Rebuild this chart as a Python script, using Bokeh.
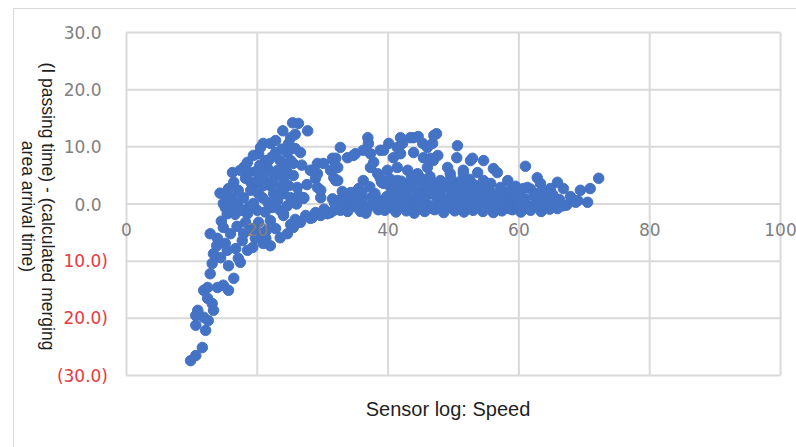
import math
from bokeh.plotting import figure
from bokeh.models import Range1d
from bokeh.embed import file_html
from bokeh.resources import INLINE

# ---- data: sensor speed vs (passing time - calculated arrival time) ----
speed_lower_branch = [9.8, 10.6, 11.6, 12.1, 10.6, 10.6, 10.9, 11.8, 12.5, 13.3, 13.1, 12.4, 11.8, 12.4,
                      13.9, 14.8, 15.6, 16.4, 12.8, 13.1, 13.3, 14.4, 15.4, 15.6, 17.4, 12.8, 13.9, 14.8,
                      15.9, 15.4, 17.7, 18.5, 19.3, 20.9, 22.0, 23.5, 24.6, 25.5, 24.0, 18.5, 20.0, 17.9,
                      13.8, 15.1, 16.7, 17.1, 19.7, 20.2, 21.4, 22.8, 21.3, 19.0, 18.2, 20.2, 22.0, 26.6,
                      28.1, 29.7, 31.2, 32.7, 27.4, 28.9, 25.1, 25.8, 14.5, 16.9]
diff_lower_branch = [-27.4, -26.5, -25.1, -22.1, -21.2, -19.5, -18.6, -19.8, -20.4, -18.6, -17.4, -16.5, -15.1, -14.6,
                     -14.6, -14.2, -15.1, -13.0, -12.2, -10.4, -8.7, -9.4, -8.1, -10.8, -10.2, -5.2, -6.0, -4.1,
                     -5.2, -1.7, -6.4, -8.1, -7.6, -6.9, -7.3, -5.9, -5.2, -4.1, -1.7, -1.7, -1.1, -5.2,
                     -7.3, -6.9, -7.8, -9.5, -6.0, -5.0, -4.6, -4.3, -6.0, -4.3, -3.2, -3.2, -2.9, -3.2,
                     -2.5, -2.0, -1.5, -1.1, -2.0, -1.5, -3.6, -2.7, -3.0, -3.9]

speed_upper_left = [25.4, 26.3, 27.7, 23.9, 25.1, 24.8, 25.8, 24.6, 25.1, 22.8, 22.0, 20.9, 20.2, 19.4,
                    18.5, 21.7, 21.6, 23.1, 24.6, 25.5, 24.0, 24.8, 24.0, 25.1, 26.3, 27.1, 20.5, 19.7,
                    20.9, 19.0, 16.4, 15.6, 16.2, 15.4, 15.1, 17.0, 17.9, 19.0, 20.2, 19.4, 17.9, 21.6,
                    22.5, 22.3, 23.5, 28.4, 29.2, 30.1, 28.9, 29.7, 31.2, 31.7, 30.7, 31.7, 28.4,
                    17.4, 18.2, 17.1, 22.0, 23.1, 20.8, 23.5, 22.8, 21.3, 16.2, 20.5, 24.3, 25.5, 21.3,
                    20.0, 15.4, 14.8, 15.9, 17.4, 23.1, 24.0, 26.1, 27.1, 24.0, 28.1, 31.5, 32.3, 29.2,
                    29.2, 29.7, 31.7, 32.3, 14.3, 26.8, 27.6, 18.8, 22.6,
                    18.0, 19.8, 21.0, 22.4, 23.6, 24.6, 26.0, 21.2, 18.8, 16.6, 20.4, 22.2, 23.8, 25.8, 26.6]
diff_upper_left = [14.2, 14.1, 12.8, 12.8, 11.6, 10.6, 9.7, 9.0, 7.6, 9.0, 10.6, 10.6, 8.8, 8.5,
                   7.3, 7.6, 6.2, 5.9, 5.5, 5.0, 4.5, 3.2, 1.8, 1.1, 1.5, 1.0, 4.6, 3.6,
                   3.2, 3.8, 3.8, 2.7, 1.1, 1.0, -0.6, 0.1, 1.1, 2.4, 1.8, 0.1, -1.1, 0.3,
                   1.8, -0.6, -1.1, 5.9, 7.1, 7.1, 4.5, 2.4, 5.9, 7.6, -1.7, -1.1, -2.4,
                   5.9, 4.5, 2.4, 3.2, 1.5, 1.1, 7.6, 11.1, 7.6, 5.5, 9.9, 6.4, 7.1, 3.8,
                   4.1, 1.5, 0.1, -0.6, -1.1, 0.6, 2.9, 2.9, 1.1, -2.0, 5.9, 8.0, 6.4, 5.3,
                   2.9, 1.1, 4.6, 4.1, 1.9, 6.8, 3.4, 5.6, 4.9,
                   6.5, 5.7, 5.2, 4.0, 3.0, -0.3, 0.0, -1.4, -0.4, -1.8, 6.8, 8.2, 9.6, 12.2, 9.0]

speed_middle = [32.7, 32.0, 33.8, 35.0, 32.0, 36.9, 37.0, 37.3, 37.8, 38.8, 40.1, 41.4, 40.8, 41.9,
                42.2, 43.4, 44.6, 45.3, 46.8, 47.4, 43.9, 45.4, 46.0, 46.9, 47.6, 46.5, 50.6, 50.5,
                49.1, 51.5, 52.9, 54.6, 56.1, 56.7, 53.7, 58.3, 55.7, 57.2, 54.6, 38.4, 39.9, 39.3,
                40.4, 41.4, 41.4, 43.0, 44.5, 45.0, 43.4, 36.2, 35.5, 34.3, 33.2, 32.3, 34.7, 38.8,
                37.3, 36.2, 39.3, 41.9, 43.9, 47.0, 46.0, 51.5, 49.5, 52.6, 51.1, 50.0, 49.1]
diff_middle = [9.9, 8.0, 8.1, 8.8, 4.1, 11.6, 10.6, 8.8, 7.3, 9.4, 10.6, 9.9, 8.1, 8.8,
               10.6, 11.6, 11.8, 10.6, 10.6, 12.3, 9.0, 8.1, 6.4, 7.6, 8.5, 8.0, 10.2, 8.1,
               6.4, 5.9, 8.0, 7.6, 6.2, 5.5, 5.5, 4.1, 3.6, 2.9, 4.1, 5.3, 5.9, 3.6,
               2.9, 4.1, 6.4, 5.9, 5.3, 4.5, 3.6, 4.1, 2.7, 2.0, 1.5, 0.6, 8.5, 4.5,
               6.4, 9.4, 9.4, 11.6, 11.6, 12.0, 9.9, 5.3, 5.3, 7.6, 3.6, 2.4, 0.6]

speed_dense = [33.5, 35.0, 36.5, 38.0, 34.0, 36.0, 37.5, 39.0, 38.5, 35.8,
               39.5, 41.2, 42.8, 44.0, 45.6, 47.1, 48.5, 50.2, 51.6, 53.0, 54.5, 56.1, 57.4, 59.0, 60.3, 61.8, 63.4, 64.7,
               40.1, 41.7, 43.3, 44.9, 46.3, 47.8, 49.4, 50.9, 52.4, 53.8, 55.3, 56.8, 58.2, 59.7, 61.2, 62.6, 64.1, 65.5,
               39.8, 41.3, 42.9, 44.4, 45.9, 47.4, 48.9, 50.5, 52.0, 53.5, 55.0, 56.5, 58.0, 59.4, 60.9, 62.3, 63.8,
               40.6, 42.1, 43.7, 45.2, 46.7, 48.2, 49.7, 51.2, 52.7, 54.2, 55.6, 57.1, 58.6, 60.1,
               41.0, 42.5, 44.1, 45.7, 47.2, 48.7, 50.3, 51.8, 53.3, 54.7,
               31.5, 33.0, 34.5, 36.0, 37.2, 38.0, 39.0, 36.8, 32.5,
               40.9, 43.8, 46.9, 49.9, 52.9, 55.9, 58.9, 61.9,
               42.4, 45.4, 48.4, 51.4, 54.4, 57.4, 60.4, 63.0,
               41.6, 44.7, 47.9, 51.0, 53.9, 56.8, 59.8, 62.7, 65.1,
               40.3, 42.0, 43.6, 45.0, 46.4, 48.0, 49.6, 51.0, 52.5,
               39.0, 40.8, 42.2, 43.9, 45.1, 46.7, 48.2, 49.8, 51.3, 52.8, 54.2, 55.7, 57.1, 58.5, 60.0, 61.5, 63.0,
               59.5, 61.8, 63.6, 65.2, 66.2, 67.3,
               30.2, 31.8, 33.8, 35.3, 36.6, 37.9, 34.8, 33.1]
diff_dense = [-0.8, -0.5, -0.3, -0.2, 0.4, 0.8, 1.2, 0.6, -1.0, -1.3,
              -1.1, -1.4, -1.2, -1.6, -1.3, -1.0, -1.5, -1.2, -1.4, -1.1, -1.3, -1.5, -1.2, -1.0, -1.4, -1.1, -1.3, -0.9,
              0.2, -0.1, 0.3, 0.0, -0.2, 0.4, 0.1, -0.3, 0.2, 0.0, 0.3, -0.1, 0.2, 0.0, -0.2, 0.3, 0.1, -0.1,
              1.3, 1.0, 1.4, 1.1, 1.5, 1.2, 0.9, 1.3, 1.6, 1.1, 1.4, 1.0, 1.3, 1.2, 0.9, 1.4, 1.0,
              2.5, 2.2, 2.7, 2.4, 2.1, 2.6, 2.3, 2.5, 2.0, 2.4, 2.2, 1.9, 2.3, 2.0,
              3.5, 3.2, 3.8, 3.3, 3.6, 3.1, 3.4, 3.0, 3.3, 2.8,
              0.9, 2.2, 1.0, 2.0, 3.0, 1.8, 3.8, -0.9, -0.2,
              -0.7, -0.6, -0.8, -0.5, -0.7, -0.6, -0.8, -0.5,
              0.7, 0.6, 0.8, 0.6, 0.7, 0.5, 0.7, 0.6,
              1.9, 1.8, 1.7, 1.9, 1.8, 1.6, 1.7, 1.5, 0.9,
              4.4, 4.0, 4.6, 4.2, 4.8, 4.1, 4.5, 3.9, 4.3,
              -0.6, -0.8, -0.5, -0.9, -0.6, -0.7, -0.4, -0.8, -0.6, -0.9, -0.5, -0.7, -0.6, -0.8, -0.5, -0.7, -0.6,
              3.1, 2.6, 2.2, 1.6, 0.8, -0.2,
              -0.9, 0.2, -1.3, 1.5, -1.6, 0.3, -0.1, 0.8]

speed_right_tail = [66.8, 65.9, 69.0, 70.5, 69.4, 70.9, 72.2, 68.7, 66.8, 65.9, 62.8, 61.0, 64.4, 64.8,
                    63.3, 64.5, 61.3, 60.7, 62.8, 67.9, 65.3]
diff_right_tail = [-0.3, -0.8, 0.6, 0.3, 2.4, 2.7, 4.5, 0.3, 2.7, 3.8, 4.6, 6.6, 1.1, 2.7,
                   3.6, 1.8, 2.9, 2.7, 1.8, 1.3, 0.6]

speed = speed_lower_branch + speed_upper_left + speed_middle + speed_dense + speed_right_tail
diff = diff_lower_branch + diff_upper_left + diff_middle + diff_dense + diff_right_tail

# ---- ticks and texts ----
x_ticks = [0, 20, 40, 60, 80, 100]
x_tick_labels = ["0", "20", "40", "60", "80", "100"]
y_all_ticks = [-30, -20, -10, 0, 10, 20, 30]
y_pos_ticks = [0, 10, 20, 30]
y_pos_labels = ["0.0", "10.0", "20.0", "30.0"]
y_neg_ticks = [-10, -20, -30]
y_neg_labels = ["10.0)", "20.0)", "(30.0)"]

x_title = "Sensor log: Speed"
y_title = "(I passing time) - (calculated merging\narea arrival time)"

# ---- style / layout (pixels of the 796x447 canvas) ----
W, H = 796, 447
PLOT_LEFT_PX, PLOT_RIGHT_PX = 126, 780      # where x=0 and x=100 sit
PLOT_TOP_PX, PLOT_BOTTOM_PX = 32, 375       # where y=30 and y=-30 sit
GRID = "#d9d9d9"
BORDER = "#d9d9d9"
GREY = "#7f7f7f"
RED = "#e8393e"
BLUE = "#4472c4"
TITLE_COLOR = "#1f1f1f"
TICK_FONT = "DejaVu Sans"
TITLE_FONT = "Liberation Sans"

XMIN, XMAX = min(x_ticks), max(x_ticks)
YMIN, YMAX = min(y_all_ticks), max(y_all_ticks)
x_per_px = (XMAX - XMIN) / (PLOT_RIGHT_PX - PLOT_LEFT_PX)
y_per_px = (YMAX - YMIN) / (PLOT_BOTTOM_PX - PLOT_TOP_PX)


def px2x(px):
    return XMIN + (px - PLOT_LEFT_PX) * x_per_px


def py2y(py):
    return YMAX - (py - PLOT_TOP_PX) * y_per_px


p = figure(width=W, height=H, output_backend="svg", toolbar_location=None,
           x_range=Range1d(px2x(0), px2x(W)), y_range=Range1d(py2y(H), py2y(0)),
           x_axis_location=None, y_axis_location=None,
           min_border_left=0, min_border_right=0, min_border_top=0, min_border_bottom=0,
           background_fill_color="white", border_fill_color="white")
p.outline_line_color = None
p.grid.visible = False

# outer chart-area border (light grey, left and top edges visible)
p.segment(x0=[px2x(13), px2x(13)], y0=[py2y(8), py2y(8)], x1=[px2x(W + 2), px2x(13)], y1=[py2y(8), py2y(H + 2)],
          line_color=BORDER, line_width=1)

# gridlines
p.segment(x0=x_ticks, y0=[YMIN] * len(x_ticks), x1=x_ticks, y1=[YMAX] * len(x_ticks),
          line_color=GRID, line_width=2)
p.segment(x0=[XMIN] * len(y_all_ticks), y0=y_all_ticks, x1=[XMAX] * len(y_all_ticks), y1=y_all_ticks,
          line_color=GRID, line_width=2)

# data points
p.scatter(speed, diff, size=10.5, fill_color=BLUE, line_color=BLUE, line_width=1)

# x tick labels sitting just under the zero line
p.text(x=x_ticks, y=[py2y(229)] * len(x_ticks), text=x_tick_labels,
       text_align="center", text_baseline="middle", text_color=GREY,
       text_font={"value": TICK_FONT}, text_font_size="17px")

# y tick labels: positives grey, negatives red (accounting style)
p.text(x=[px2x(101)] * len(y_pos_ticks), y=y_pos_ticks, text=y_pos_labels,
       text_align="right", text_baseline="middle", text_color=GREY,
       text_font={"value": TICK_FONT}, text_font_size="17px")
p.text(x=[px2x(107.5)] * len(y_neg_ticks), y=y_neg_ticks, text=y_neg_labels,
       text_align="right", text_baseline="middle", text_color=RED,
       text_font={"value": TICK_FONT}, text_font_size="17px")

# axis titles
p.text(x=[px2x(447.5)], y=[py2y(408)], text=[x_title], text_align="center", text_baseline="middle",
       text_color=TITLE_COLOR, text_font={"value": TITLE_FONT}, text_font_size="20px")
p.text(x=[px2x(37)], y=[py2y(206)], text=[y_title], angle=-math.pi / 2,
       text_align="center", text_baseline="middle", text_line_height=1.0,
       text_color=TITLE_COLOR, text_font={"value": TITLE_FONT}, text_font_size="17.5px")

open("out.html", "w").write(file_html(p, INLINE))
